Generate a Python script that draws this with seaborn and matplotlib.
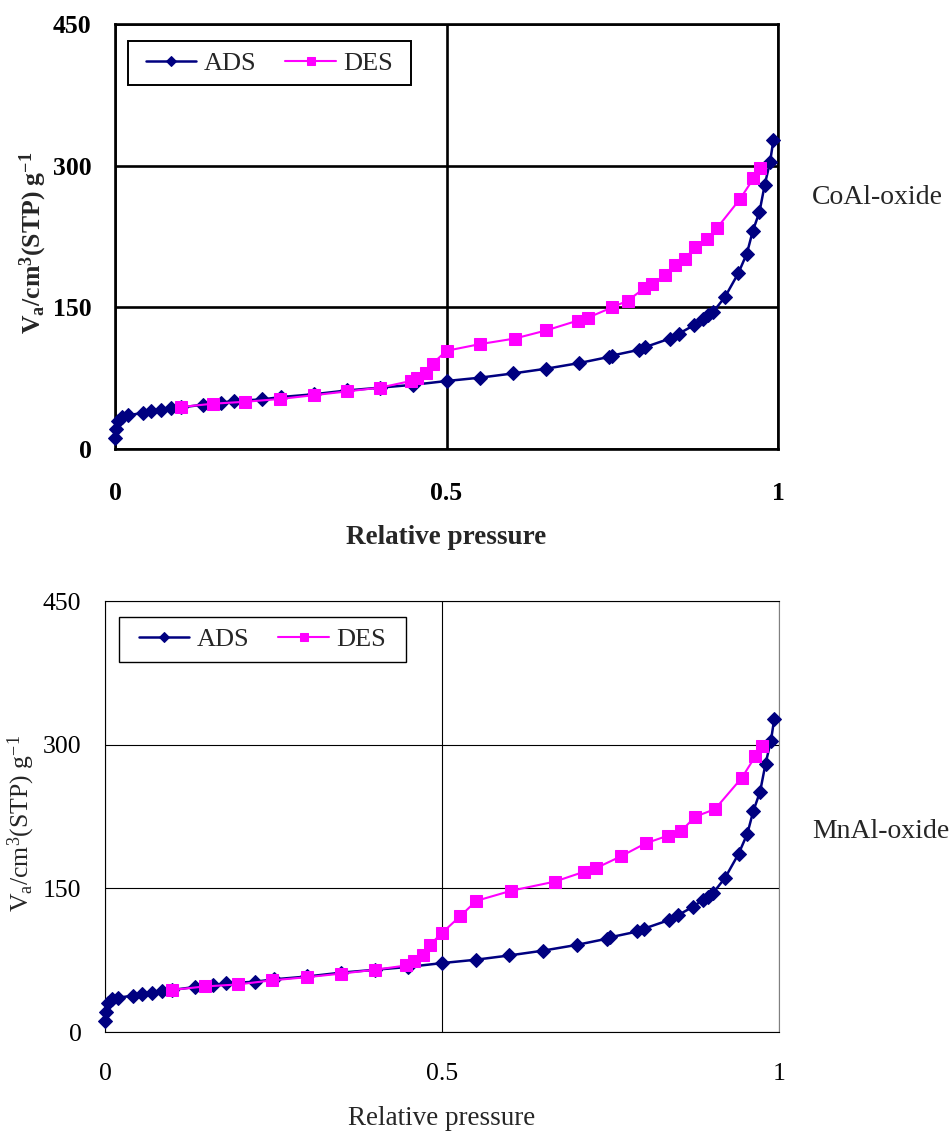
import matplotlib
matplotlib.use("Agg")
import matplotlib.pyplot as plt
from matplotlib.patches import Rectangle
import seaborn as sns

# Adsorption branch (same sample set for both oxides)
ads_p = [0.0, 0.001, 0.004, 0.01, 0.02, 0.042, 0.055, 0.07, 0.085, 0.1, 0.133, 0.16, 0.18,
         0.222, 0.25, 0.3, 0.35, 0.4, 0.45, 0.5, 0.55, 0.6, 0.65, 0.7, 0.745, 0.75, 0.79,
         0.8, 0.837, 0.85, 0.873, 0.887, 0.895, 0.902, 0.92, 0.94, 0.953, 0.962, 0.972,
         0.98, 0.988, 0.993]
ads_v = [12, 21, 30, 34, 36, 38, 40, 41, 43, 44, 47, 49, 51, 52.5, 55, 58, 62, 65, 68, 72,
         75.5, 80, 85, 91, 97.5, 99, 105, 108, 117, 122, 131, 138, 141.5, 145, 161, 186,
         207, 231, 251, 280, 304, 327]

# Desorption branch, CoAl-oxide
co_des_p = [0.1, 0.148, 0.196, 0.249, 0.3, 0.35, 0.4, 0.446, 0.456, 0.469, 0.479, 0.5,
            0.55, 0.603, 0.65, 0.698, 0.713, 0.75, 0.773, 0.798, 0.81, 0.83, 0.845, 0.86,
            0.875, 0.893, 0.908, 0.943, 0.963, 0.973]
co_des_v = [44.5, 48, 50, 53, 57, 61, 65, 72, 75, 81, 90.5, 104, 111, 117, 125.5, 136,
            139, 150, 157, 170, 175, 184, 194.5, 201.5, 214, 222.5, 234, 265, 286.5, 298]

# Desorption branch, MnAl-oxide
mn_des_p = [0.1, 0.148, 0.197, 0.248, 0.3, 0.35, 0.4, 0.447, 0.459, 0.472, 0.482, 0.5,
            0.527, 0.551, 0.603, 0.667, 0.711, 0.728, 0.765, 0.802, 0.835, 0.855, 0.876,
            0.905, 0.945, 0.965, 0.975]
mn_des_v = [44, 47.6, 49.7, 54, 57.3, 61, 65, 69.5, 74.7, 80, 91, 103.5, 121, 137, 147.6,
            157, 167.4, 171, 183.3, 197, 205, 210, 225, 232.7, 265.6, 288, 299]

x_ticks = [0, 0.5, 1]
x_tick_labels = ["0", "0.5", "1"]
y_ticks = [0, 150, 300, 450]
y_tick_labels = ["0", "150", "300", "450"]

sns.set_style("white")
plt.rcParams["font.family"] = ["Liberation Serif", "DejaVu Serif"]
plt.rcParams["mathtext.fontset"] = "custom"
plt.rcParams["mathtext.rm"] = "Liberation Serif"
plt.rcParams["mathtext.bf"] = "Liberation Serif:bold"
plt.rcParams["mathtext.it"] = "Liberation Serif:italic"

NAVY = "#000080"
MAGENTA = "#FF00FF"

fig = plt.figure(figsize=(9.53, 11.33), dpi=100)
ax1 = fig.add_axes([0.1207, 0.6037, 0.6957, 0.3751])
ax2 = fig.add_axes([0.1102, 0.0891, 0.7072, 0.3804])


def draw_panel(ax, des_p, des_v, heavy, xpad, xlabelpad, ylabel_xy, legend_box):
    lw = 1.9 if heavy else 0.8
    weight = "bold" if heavy else "normal"
    sns.lineplot(x=ads_p, y=ads_v, ax=ax, color=NAVY, marker="D", markersize=7,
                 markeredgecolor=NAVY, linewidth=1.8, label="ADS", sort=False,
                 estimator=None, clip_on=False, zorder=4)
    sns.lineplot(x=des_p, y=des_v, ax=ax, color=MAGENTA, marker="s", markersize=9,
                 markeredgecolor=MAGENTA, linewidth=1.5, label="DES", sort=False,
                 estimator=None, clip_on=False, zorder=5)
    ax.set_xlim(0, 1)
    ax.set_ylim(0, 450)
    ax.set_xticks(x_ticks)
    ax.set_xticklabels(x_tick_labels, fontweight=weight)
    ax.set_yticks(y_ticks)
    ax.set_yticklabels(y_tick_labels, fontweight=weight)
    ax.grid(True, color="black", linewidth=lw)
    ax.set_axisbelow(True)
    for side in ["left", "right", "top", "bottom"]:
        ax.spines[side].set_visible(True)
        ax.spines[side].set_color("black")
        ax.spines[side].set_linewidth(lw)
    if not heavy:
        ax.spines["right"].set_color("#808080")
    ax.tick_params(axis="both", direction="out", length=5, width=lw, color="black",
                   labelsize=18.5, labelcolor="black")
    ax.tick_params(axis="x", pad=xpad)
    ax.tick_params(axis="y", pad=12)
    ax.set_xlabel("Relative pressure", fontsize=19.5, fontweight=weight,
                  labelpad=xlabelpad)
    if heavy:
        ylab = r"$\mathbf{V_a/cm^3(STP)\ g^{-1}}$"
    else:
        ylab = r"V$_\mathrm{a}$/cm$^3$(STP) g$^{-1}$"
    ax.set_ylabel(ylab, fontsize=18.5, fontweight=weight)
    ax.yaxis.set_label_coords(*ylabel_xy)

    # legend box drawn as a plain rectangle, entries centred inside it
    x0, y0, x1, y1 = legend_box
    ax.add_patch(Rectangle((x0, y0), x1 - x0, y1 - y0, transform=ax.transAxes,
                           facecolor="white", edgecolor="black",
                           linewidth=1.4 if heavy else 1.0, zorder=6, clip_on=False))
    ax.legend(loc="center", bbox_to_anchor=((x0 + x1) / 2, (y0 + y1) / 2),
              borderaxespad=0, borderpad=0, ncol=2, fontsize=19, frameon=False,
              markerscale=0.7, handlelength=1.9, handletextpad=0.3,
              columnspacing=1.1).set_zorder(7)
    return ax


draw_panel(ax1, co_des_p, co_des_v, heavy=True, xpad=18.5, xlabelpad=15,
           ylabel_xy=(-0.0996, 0.485), legend_box=(0.0196, 0.8565, 0.4465, 0.96))
draw_panel(ax2, mn_des_p, mn_des_v, heavy=False, xpad=17, xlabelpad=15.5,
           ylabel_xy=(-0.1009, 0.485), legend_box=(0.0208, 0.8585, 0.4466, 0.9629))

fig.text(812 / 953, 1 - 198 / 1133, "CoAl-oxide", fontsize=20, ha="left", va="center")
fig.text(812 / 953, 1 - 831 / 1133, "MnAl-oxide", fontsize=20, ha="left", va="center")

fig.savefig("out.png", dpi=100, facecolor="white")
